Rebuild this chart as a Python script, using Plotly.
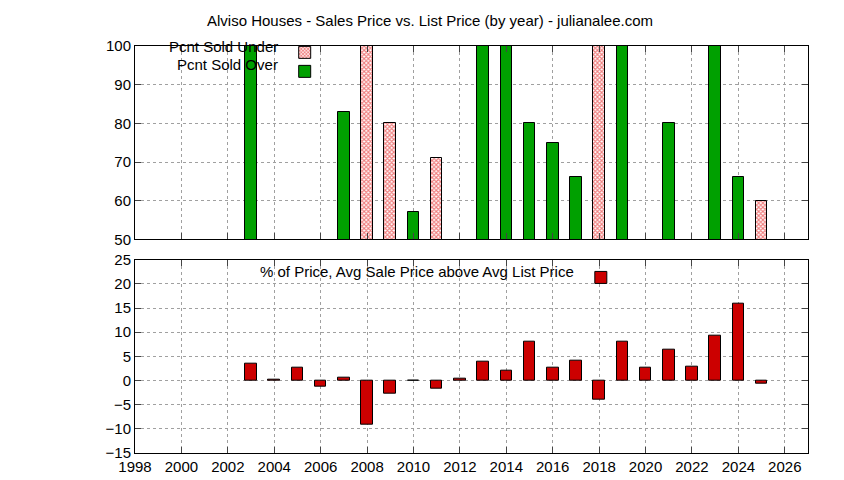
import plotly.graph_objects as go
from plotly.subplots import make_subplots

under_years = [2008, 2009, 2011, 2018, 2025]
under_pct = [100, 80, 71, 100, 60]
over_years = [2003, 2007, 2010, 2013, 2014, 2015, 2016, 2017, 2019, 2021, 2023, 2024]
over_pct = [100, 83, 57, 100, 100, 80, 75, 66, 100, 80, 100, 66]

diff_years = [2003, 2004, 2005, 2006, 2007, 2008, 2009, 2010, 2011, 2012, 2013, 2014,
              2015, 2016, 2017, 2018, 2019, 2020, 2021, 2022, 2023, 2024, 2025]
diff_pct = [3.5, 0.1, 2.7, -1.3, 0.6, -9.2, -2.7, -0.1, -1.7, 0.4, 3.8, 2.0,
            8.1, 2.7, 4.1, -3.9, 8.0, 2.7, 6.4, 2.9, 9.3, 15.8, -0.7]

fig = make_subplots(rows=2, cols=1, vertical_spacing=0.05)

fig.add_bar(x=under_years, y=under_pct, width=0.5, name=" ", legend="legend",
            marker=dict(color="white", line=dict(color="black", width=1),
                        pattern=dict(shape="x", fgcolor="#e00000", bgcolor="white", size=3, solidity=0.6)),
            row=1, col=1)
fig.add_bar(x=over_years, y=over_pct, width=0.5, name=" ", legend="legend",
            marker=dict(color="#00a000", line=dict(color="black", width=1)), row=1, col=1)
fig.add_bar(x=diff_years, y=diff_pct, width=0.5, name=" ", legend="legend2",
            marker=dict(color="#cc0000", line=dict(color="black", width=1)), row=2, col=1)

ax = dict(showline=True, mirror="ticks", linecolor="black", ticks="inside", ticklen=6,
          showgrid=True, gridcolor="#a0a0a0", griddash="dot", zeroline=False,
          tickfont=dict(size=15, color="black"))
fig.update_xaxes(**ax, range=[1998, 2027], dtick=2, tick0=1998)
fig.update_xaxes(showticklabels=False, row=1, col=1)
fig.update_yaxes(**ax)
fig.update_yaxes(range=[50, 100], dtick=10, row=1, col=1)
fig.update_yaxes(range=[-15, 25], dtick=5, row=2, col=1)

fig.add_annotation(text="Pcnt Sold Under", xref="paper", yref="paper", x=0.215, y=1.0,
                   showarrow=False, xanchor="right", yanchor="middle", font=dict(size=15))
fig.add_annotation(text="Pcnt Sold Over", xref="paper", yref="paper", x=0.215, y=0.955,
                   showarrow=False, xanchor="right", yanchor="middle", font=dict(size=15))
fig.add_annotation(text="% of Price, Avg Sale Price above Avg List Price", xref="paper", yref="paper",
                   x=0.655, y=0.445, showarrow=False, xanchor="right", yanchor="middle", font=dict(size=15))

fig.update_layout(
    width=844, height=480, plot_bgcolor="white", paper_bgcolor="white",
    font=dict(family="Liberation Sans, Arial", color="black"),
    title=dict(text="Alviso Houses - Sales Price vs. List Price (by year) - julianalee.com",
               x=0.5, xanchor="center", y=0.985, font=dict(size=15)),
    margin=dict(l=127, r=44, t=38, b=35),
    barmode="overlay", bargap=0,
    legend=dict(x=0.215, y=1.02, xanchor="left", yanchor="top", bgcolor="rgba(0,0,0,0)",
                tracegroupgap=0, itemwidth=40, font=dict(size=12)),
    legend2=dict(x=0.655, y=0.467, xanchor="left", yanchor="top", bgcolor="rgba(0,0,0,0)",
                 itemwidth=40, font=dict(size=12)),
)

fig.write_html("out.html")
